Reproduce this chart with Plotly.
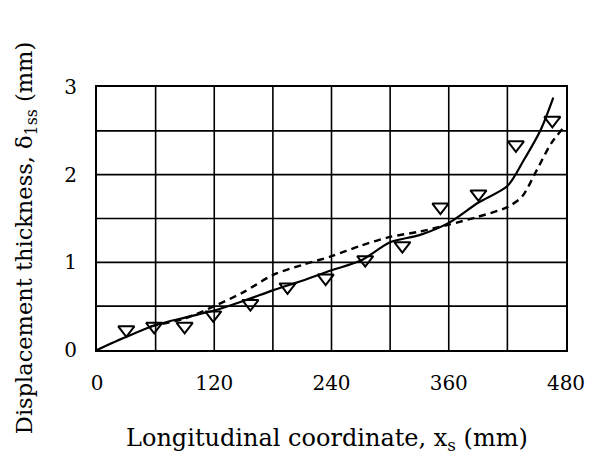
import plotly.graph_objects as go

# Measured displacement thickness (triangles)
x_meas = [30, 58.5, 89.7, 119, 157, 195, 234, 274.5, 312.5, 351.5, 390.4, 428.7, 466]
y_meas = [0.23, 0.27, 0.27, 0.40, 0.53, 0.72, 0.82, 1.03, 1.19, 1.63, 1.78, 2.34, 2.62]

# Prediction A (solid)
x_solid = [0, 30, 60, 90, 120, 150, 180, 210, 240, 270, 300, 330, 360, 390, 420, 437, 454, 467]
y_solid = [0.0, 0.15, 0.285, 0.37, 0.45, 0.56, 0.68, 0.79, 0.91, 1.02, 1.23, 1.31, 1.45, 1.68, 1.87, 2.17, 2.51, 2.88]

# Prediction B (dashed)
x_dash = [55, 90, 120, 150, 180, 210, 240, 270, 300, 330, 360, 390, 420, 435, 450, 465, 477]
y_dash = [0.27, 0.36, 0.50, 0.66, 0.855, 0.97, 1.07, 1.19, 1.29, 1.35, 1.43, 1.52, 1.63, 1.75, 2.05, 2.36, 2.53]

x_ticks = [0, 120, 240, 360, 480]
y_ticks = [0, 1, 2, 3]

FONT = "DejaVu Serif"

fig = go.Figure()
fig.add_trace(go.Scatter(
    x=x_solid, y=y_solid, mode="lines",
    line=dict(color="black", width=2.2, shape="spline", smoothing=0.8),
    showlegend=False,
))
fig.add_trace(go.Scatter(
    x=x_dash, y=y_dash, mode="lines",
    line=dict(color="black", width=2.4, dash="7px,5px", shape="spline", smoothing=0.8),
    showlegend=False,
))
fig.add_trace(go.Scatter(
    x=x_meas, y=y_meas, mode="markers",
    marker=dict(symbol="triangle-down-open", size=14, color="black",
                line=dict(color="black", width=2)),
    showlegend=False,
))

fig.update_layout(
    width=597, height=470,
    margin=dict(l=97, r=24, t=87, b=120),
    paper_bgcolor="white", plot_bgcolor="white",
    font=dict(family=FONT, color="black", size=20),
    xaxis=dict(
        range=[0, 480], tickvals=x_ticks, ticktext=[str(v) for v in x_ticks],
        showgrid=False, zeroline=False, showline=True, mirror=True,
        linecolor="black", linewidth=2, ticks="", ticklabelstandoff=14,
        tickfont=dict(family=FONT, size=20),
    ),
    yaxis=dict(
        range=[0, 3], tickvals=y_ticks, ticktext=[str(v) for v in y_ticks],
        showgrid=False, zeroline=False, showline=True, mirror=True,
        linecolor="black", linewidth=2, ticks="", ticklabelstandoff=14,
        tickfont=dict(family=FONT, size=20),
    ),
    annotations=[
        dict(text="Longitudinal coordinate, x<sub>s</sub> (mm)",
             xref="paper", yref="paper", x=0.49, y=-0.342,
             xanchor="center", yanchor="middle", showarrow=False,
             font=dict(family=FONT, size=24)),
        dict(text="Displacement thickness, \u03b4<sub>1ss</sub> (mm)",
             xref="paper", yref="paper", x=-0.151, y=0.426, textangle=-90,
             xanchor="center", yanchor="middle", showarrow=False,
             font=dict(family=FONT, size=22.5)),
    ],
)

# Grid every 60 mm and every 0.5 mm, drawn as axis-referenced lines
for gx in range(60, 480, 60):
    fig.add_shape(type="line", xref="x", yref="y", x0=gx, x1=gx, y0=0, y1=3,
                  line=dict(color="black", width=1.6), layer="below")
for gy in [0.5, 1.0, 1.5, 2.0, 2.5]:
    fig.add_shape(type="line", xref="x", yref="y", x0=0, x1=480, y0=gy, y1=gy,
                  line=dict(color="black", width=1.6), layer="below")

fig.write_html("out.html")
